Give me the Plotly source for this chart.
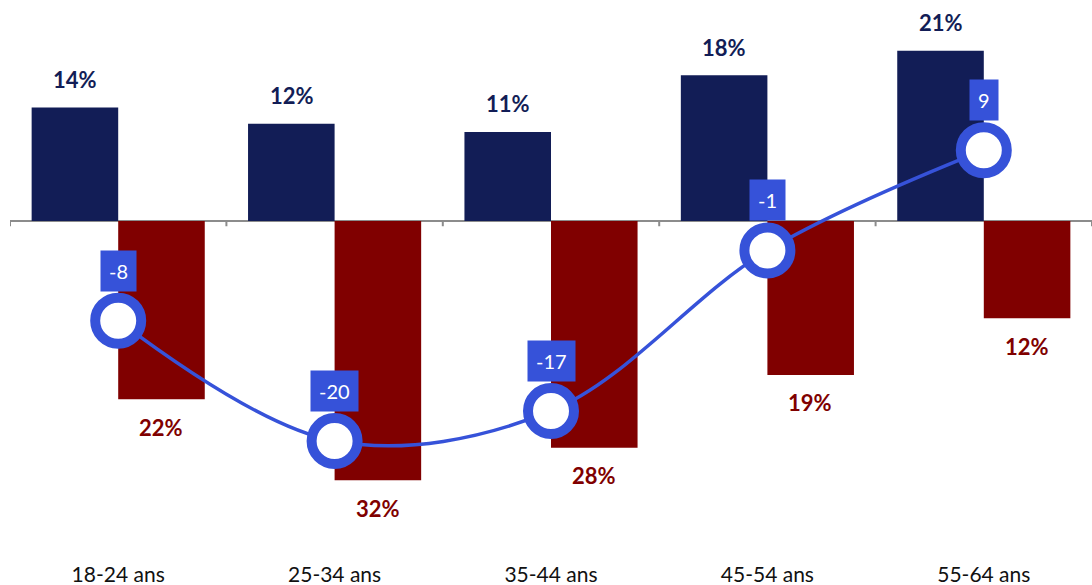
import plotly.graph_objects as go

categories = ["18-24 ans", "25-34 ans", "35-44 ans", "45-54 ans", "55-64 ans"]
positive = [14, 12, 11, 18, 21]
negative = [22, 32, 28, 19, 12]
net = [-8, -20, -17, -1, 9]

NAVY = "#121d56"
RED = "#800000"
BLUE = "#3652d9"
FONT = "Lato, 'Open Sans', sans-serif"

xs = list(range(len(categories)))

fig = go.Figure()
fig.add_trace(go.Bar(x=xs, y=positive, marker=dict(color=NAVY, line=dict(width=0)), hoverinfo="skip"))
fig.add_trace(go.Bar(x=xs, y=[-v for v in negative], marker=dict(color=RED, line=dict(width=0)), hoverinfo="skip"))
fig.add_trace(go.Scatter(
    x=xs, y=net, yaxis="y2", mode="lines+markers",
    line=dict(color=BLUE, width=3.5, shape="spline", smoothing=1.0),
    marker=dict(size=46, color="white", line=dict(color=BLUE, width=10)),
    hoverinfo="skip",
))

annotations = []
for i, v in enumerate(positive):
    annotations.append(dict(x=i, y=v, xref="x", yref="y", xshift=-43, yshift=28,
                            text=f"<b>{v}%</b>", showarrow=False,
                            font=dict(family=FONT, size=22, color=NAVY)))
for i, v in enumerate(negative):
    annotations.append(dict(x=i, y=-v, xref="x", yref="y", xshift=43, yshift=-28,
                            text=f"<b>{v}%</b>", showarrow=False,
                            font=dict(family=FONT, size=22, color=RED)))
for i, v in enumerate(net):
    annotations.append(dict(x=i, y=v, xref="x", yref="y2", yshift=50,
                            text=str(v), showarrow=False, bgcolor=BLUE, borderpad=8,
                            font=dict(family=FONT, size=20, color="white")))

shapes = []
for b in [i - 0.5 for i in xs] + [xs[-1] + 0.5]:
    shapes.append(dict(type="line", xref="x", yref="y", x0=b, x1=b, y0=0, y1=-0.65,
                       line=dict(color="#8c8c8c", width=2), layer="below"))

fig.update_layout(
    width=1092, height=585,
    margin=dict(l=10, r=0, t=0, b=25),
    paper_bgcolor="white", plot_bgcolor="white",
    barmode="group", bargap=0.2, bargroupgap=0,
    showlegend=False,
    font=dict(family=FONT, size=21, color="#111111"),
    xaxis=dict(range=[-0.5, 4.5], tickvals=xs, ticktext=categories, showgrid=False,
               showline=False, zeroline=False, ticks="", tickfont=dict(size=21, color="#111111")),
    yaxis=dict(range=[-41.85, 27.28], showgrid=False, showticklabels=False, zeroline=True,
               zerolinecolor="#8c8c8c", zerolinewidth=2, showline=False, fixedrange=True),
    yaxis2=dict(range=[-31.86, 23.97], overlaying="y", side="right", showgrid=False,
                showticklabels=False, zeroline=False, showline=False),
    annotations=annotations,
    shapes=shapes,
)

fig.write_html("out.html", config={"displayModeBar": False},
               post_script="document.body.style.margin='0';document.body.style.overflow='hidden';")
